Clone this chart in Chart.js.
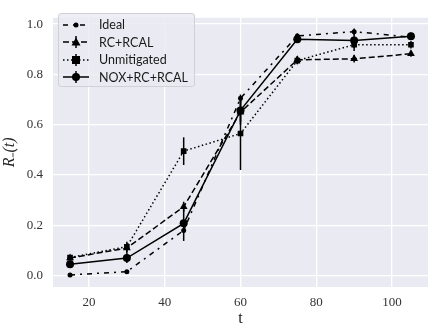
<!DOCTYPE html>
<html>
<head>
<meta charset="utf-8">
<script src="https://cdn.jsdelivr.net/npm/chart.js@4.4.1/dist/chart.umd.min.js"></script>
<style>
  html, body { margin: 0; padding: 0; background: #fff; }
  #wrap { position: relative; width: 436px; height: 334px; }
  #legend {
    position: absolute; left: 58px; top: 13px; width: 137px; height: 74px;
    background: rgba(234, 234, 242, 0.8); border: 1px solid #d0d0d6; border-radius: 3px;
    font-family: "Lato", "DejaVu Sans", sans-serif; font-size: 12.5px; color: #1a1a1a;
    box-sizing: border-box; padding-top: 2px;
  }
  #legend .row { display: flex; align-items: center; height: 17.5px; }
  #legend svg { margin-left: 4px; margin-right: 10px; }
</style>
</head>
<body>
<div id="wrap">
  <canvas id="chart" width="436" height="334"></canvas>
  <div id="legend"></div>
</div>
<script>
// time points and series values
const tValues = [15, 30, 45, 60, 75, 90, 105];
const seriesNames = ["Ideal", "RC+RCAL", "Unmitigated", "NOX+RC+RCAL"];
const ideal = [0.003, 0.016, 0.18, 0.705, 0.953, 0.970, 0.948];
const rcRcal = [0.07, 0.11, 0.274, 0.65, 0.858, 0.862, 0.882];
const unmitigated = [0.072, 0.115, 0.495, 0.565, 0.855, 0.918, 0.918];
const noxRcRcal = [0.045, 0.07, 0.208, 0.657, 0.94, 0.935, 0.952];

// error bar half-widths
const idealErr = [0, 0, 0, 0.015, 0.01, 0.012, 0.005];
const rcRcalErr = [0.01, 0.02, 0.02, 0.05, 0.015, 0.015, 0.012];
const unmitigatedErr = [0.01, 0.02, 0.055, 0.145, 0.015, 0.025, 0.015];
const noxRcRcalErr = [0.012, 0.02, 0.07, 0.045, 0.015, 0.03, 0.015];

const xTicks = [20, 40, 60, 80, 100];
const yTicks = [0.0, 0.2, 0.4, 0.6, 0.8, 1.0];

const toPoints = vals => vals.map((v, i) => ({ x: tValues[i], y: v }));

const styles = [
    { dash: [5, 5, 2, 5], point: "circle", radius: 2.5 },
    { dash: [6, 3], point: "triangle", radius: 4.5 },
    { dash: [1.5, 2.5], point: "rect", radius: 4 },
    { dash: [], point: "circle", radius: 4 }
];
const allValues = [ideal, rcRcal, unmitigated, noxRcRcal];
const allErrs = [idealErr, rcRcalErr, unmitigatedErr, noxRcRcalErr];

const datasets = seriesNames.map((name, i) => ({
    label: name,
    data: toPoints(allValues[i]),
    errors: allErrs[i],
    borderColor: "#000",
    backgroundColor: "#000",
    borderWidth: 1.5,
    borderDash: styles[i].dash,
    pointStyle: styles[i].point,
    pointRadius: styles[i].radius,
    pointBorderWidth: 0,
    tension: 0
}));

// grey plot background like seaborn
const plotBackground = {
    id: "plotBackground",
    beforeDraw(chart) {
        const { ctx, chartArea: a } = chart;
        ctx.save();
        ctx.fillStyle = "#eaeaf2";
        ctx.fillRect(a.left, a.top, a.right - a.left, a.bottom - a.top);
        ctx.restore();
    }
};

// vertical error bars drawn through the scales
const errorBars = {
    id: "errorBars",
    beforeDatasetsDraw(chart) {
        const { ctx, scales } = chart;
        ctx.save();
        ctx.strokeStyle = "#000";
        ctx.lineWidth = 1.5;
        chart.data.datasets.forEach(ds => {
            ds.data.forEach((p, i) => {
                const e = ds.errors[i];
                if (!e) return;
                const x = scales.x.getPixelForValue(p.x);
                ctx.beginPath();
                ctx.moveTo(x, scales.y.getPixelForValue(p.y - e));
                ctx.lineTo(x, scales.y.getPixelForValue(p.y + e));
                ctx.stroke();
            });
        });
        ctx.restore();
    }
};

new Chart(document.getElementById("chart"), {
    type: "line",
    data: { datasets },
    options: {
        responsive: false,
        animation: false,
        layout: { padding: { top: 7, right: 8, left: 0, bottom: 6 } },
        plugins: { legend: { display: false }, tooltip: { enabled: false } },
        scales: {
            x: {
                type: "linear",
                min: 10.5,
                max: 109.5,
                afterBuildTicks: s => { s.ticks = xTicks.map(v => ({ value: v })); },
                afterFit: s => { s.height = 41; },
                grid: { color: "#fff", lineWidth: 1.3, drawTicks: false },
                border: { display: false },
                ticks: {
                    padding: 8,
                    color: "#333",
                    font: { family: "Liberation Serif", size: 13 }
                },
                title: {
                    display: true,
                    text: "t",
                    color: "#222",
                    padding: { top: 0, bottom: 0 },
                    font: { family: "Liberation Serif", size: 16 }
                }
            },
            y: {
                type: "linear",
                min: -0.045,
                max: 1.025,
                afterBuildTicks: s => { s.ticks = yTicks.map(v => ({ value: v })); },
                afterFit: s => { s.width = 53; },
                grid: { color: "#fff", lineWidth: 1.3, drawTicks: false },
                border: { display: false },
                ticks: {
                    padding: 10,
                    color: "#333",
                    font: { family: "Liberation Serif", size: 13 },
                    callback: v => v.toFixed(1)
                },
                title: {
                    display: true,
                    text: "R\u208B(t)",
                    color: "#222",
                    padding: { top: 0, bottom: 2 },
                    font: { family: "Liberation Serif", size: 16, style: "italic" }
                }
            }
        }
    },
    plugins: [plotBackground, errorBars]
});

// legend with line + marker samples
function markerSvg(style) {
    if (style.point === "triangle") return '<polygon points="13,1.5 17.5,9.5 8.5,9.5" fill="#000"/>';
    if (style.point === "rect") return '<rect x="9" y="2" width="8" height="8" fill="#000"/>';
    return '<circle cx="13" cy="6" r="' + style.radius + '" fill="#000"/>';
}
const legendEl = document.getElementById("legend");
seriesNames.forEach((name, i) => {
    const st = styles[i];
    const dash = st.dash.length ? ' stroke-dasharray="' + st.dash.join(" ") + '"' : "";
    const errLine = i === 0 ? "" : '<line x1="13" y1="0" x2="13" y2="12" stroke="#000" stroke-width="1.5"/>';
    legendEl.innerHTML += '<div class="row"><svg width="26" height="12">' +
        '<line x1="0" y1="6" x2="26" y2="6" stroke="#000" stroke-width="1.5"' + dash + '/>' +
        errLine + markerSvg(st) + '</svg><span>' + name + '</span></div>';
});
</script>
</body>
</html>
